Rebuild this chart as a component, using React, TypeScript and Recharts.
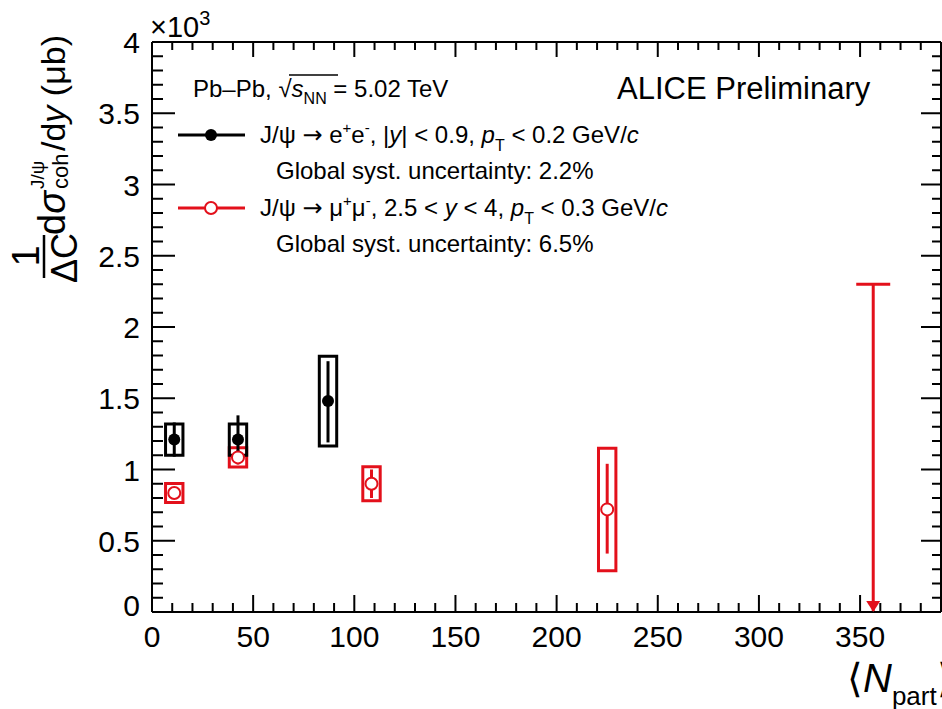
import {
  ComposedChart,
  XAxis,
  YAxis,
  Scatter,
  ErrorBar,
  ReferenceArea,
  ReferenceLine,
} from 'recharts';

const FONT = '"Liberation Sans", Arial, Helvetica, sans-serif';
const RED = '#e3101b';

// J/psi -> e+e-, |y| < 0.9, pT < 0.2 GeV/c
const EE_NPART = [11, 42.5, 87];
const EE_XSEC = [1.21, 1.21, 1.48];
const EE_STAT_LO = [0.12, 0.17, 0.29];
const EE_STAT_HI = [0.12, 0.17, 0.28];
const EE_SYST = [0.11, 0.11, 0.315];

// J/psi -> mu+mu-, 2.5 < y < 4, pT < 0.3 GeV/c
const MM_NPART = [11, 42.5, 108.5, 225];
const MM_XSEC = [0.835, 1.085, 0.9, 0.72];
const MM_STAT_LO = [0.04, 0.05, 0.1, 0.31];
const MM_STAT_HI = [0.04, 0.05, 0.1, 0.32];
const MM_SYST = [0.067, 0.067, 0.12, 0.43];

// most central bin: upper limit only
const MM_LIMIT_NPART = [356.5];
const MM_LIMIT_VAL = [2.3];

const X_LABELS = [0, 50, 100, 150, 200, 250, 300, 350];
const Y_LABELS = [0, 0.5, 1, 1.5, 2, 2.5, 3, 3.5, 4];

const X_MAX = 390;
const Y_MAX = 4;
const BOX_HALF = 4.3; // width of syst. boxes in Npart units
const CAP_HALF = 8.4;

const MARGIN = { top: 41, right: 0, bottom: 96, left: 151 };
const W = 942;
const H = 709;
// plot box (axes take 1px each)
const PLOT_L = MARGIN.left + 1;
const PLOT_T = MARGIN.top + 1;
const PLOT_R = W - MARGIN.right - 1;
const PLOT_B = H - MARGIN.bottom - 1;

// minor ticks every 10 in x, 0.1 in y
const X_TICKS: number[] = [];
for (let i = 0; i <= X_MAX; i += 10) X_TICKS.push(i);
const Y_TICKS: number[] = [];
for (let i = 0; i <= 40; i++) Y_TICKS.push(i / 10);

const eeData = EE_NPART.map((x, i) => ({
  x,
  y: EE_XSEC[i],
  stat: [EE_STAT_LO[i], EE_STAT_HI[i]],
  syst: EE_SYST[i],
}));
const mmData = MM_NPART.map((x, i) => ({
  x,
  y: MM_XSEC[i],
  stat: [MM_STAT_LO[i], MM_STAT_HI[i]],
  syst: MM_SYST[i],
}));
const limitData = MM_LIMIT_NPART.map((x, i) => ({ x, y: 0, top: MM_LIMIT_VAL[i] }));

const isMajorX = (v: number) => X_LABELS.includes(v);
const isMajorY = (v: number) => Y_LABELS.some((l) => Math.abs(l - v) < 1e-6);

const BottomTick = ({ x, y, payload }: any) => {
  const major = isMajorX(payload.value);
  return (
    <g>
      <line x1={x} x2={x} y1={y} y2={y - (major ? 17 : 9)} stroke="#000" strokeWidth={2} />
      {major && (
        <text x={x} y={y + 35} textAnchor="middle" fontSize={30} fontFamily={FONT} fill="#000">
          {payload.value}
        </text>
      )}
    </g>
  );
};

const LeftTick = ({ x, y, payload }: any) => {
  const major = isMajorY(payload.value);
  const label = Y_LABELS.find((l) => Math.abs(l - payload.value) < 1e-6);
  return (
    <g>
      <line x1={x} x2={x + (major ? 23 : 11)} y1={y} y2={y} stroke="#000" strokeWidth={2} />
      {label !== undefined && (
        <text
          x={x - 12}
          y={y + (label === 0 ? 4 : 11)}
          textAnchor="end"
          fontSize={30}
          fontFamily={FONT}
          fill="#000"
        >
          {label}
        </text>
      )}
    </g>
  );
};

const FilledDot = ({ cx, cy }: any) => <circle cx={cx} cy={cy} r={6} fill="#000" />;
const OpenDot = ({ cx, cy }: any) => (
  <circle cx={cx} cy={cy} r={6} fill="#fff" stroke={RED} strokeWidth={2} />
);
const ArrowHead = ({ cx, cy }: any) => (
  <path d={`M${cx - 7},${cy - 11} L${cx + 7},${cy - 11} L${cx},${cy} Z`} fill={RED} />
);

const ARROW_FONT = '"DejaVu Sans", sans-serif';

// frame ticks on the top and right edges (mirror of the bottom/left axes)
function FrameTicks() {
  const sx = (v: number) => PLOT_L + (v / X_MAX) * (PLOT_R - PLOT_L);
  const sy = (v: number) => PLOT_B - (v / Y_MAX) * (PLOT_B - PLOT_T);
  return (
    <g stroke="#000" strokeWidth={2}>
      {X_TICKS.map((v) => (
        <line key={`t${v}`} x1={sx(v)} x2={sx(v)} y1={PLOT_T} y2={PLOT_T + (isMajorX(v) ? 15 : 8)} />
      ))}
      {Y_TICKS.map((v) => (
        <line key={`r${v}`} x1={PLOT_R} x2={PLOT_R - (isMajorY(v) ? 20 : 9)} y1={sy(v)} y2={sy(v)} />
      ))}
    </g>
  );
}

function Overlay() {
  return (
    <svg
      width={W}
      height={H}
      style={{ position: 'absolute', left: 0, top: 0, pointerEvents: 'none' }}
      fontFamily={FONT}
    >
      <FrameTicks />

      {/* multiplier */}
      <text x={150} y={37} fontSize={29}>
        ×10<tspan dy={-12} fontSize={20}>3</tspan>
      </text>

      {/* y axis title */}
      <text transform="rotate(-90)" x={-256} y={39} textAnchor="middle" fontSize={38}>
        1
      </text>
      <line x1={44} x2={44} y1={235} y2={278} stroke="#000" strokeWidth={2.5} />
      <text transform="rotate(-90)" x={-258} y={77} textAnchor="middle" fontSize={36}>
        ΔC
      </text>
      <text transform="rotate(-90)" x={-235} y={65} fontSize={38}>
        d<tspan fontStyle="italic">σ</tspan>
      </text>
      <text transform="rotate(-90)" x={-189} y={44} fontSize={19}>
        J/ψ
      </text>
      <text transform="rotate(-90)" x={-189} y={68} fontSize={22}>
        coh
      </text>
      <text transform="rotate(-90)" x={-151} y={65} fontSize={34}>
        /d<tspan fontStyle="italic">y</tspan> (μb)
      </text>

      {/* x axis title */}
      <text x={847} y={692} fontSize={40}>
        ⟨<tspan fontStyle="italic">N</tspan>
        <tspan dy={13} fontSize={26}>part</tspan>
        <tspan dy={-13}>⟩</tspan>
      </text>

      {/* header */}
      <text x={193} y={97} fontSize={24}>
        Pb–Pb, √<tspan fontStyle="italic">s</tspan>
        <tspan dy={7} fontSize={16}>NN</tspan>
        <tspan dy={-7}> = 5.02 TeV</tspan>
      </text>
      <line x1={289} x2={338} y1={75} y2={75} stroke="#000" strokeWidth={1.5} />
      <text x={617} y={99} fontSize={31}>
        ALICE Preliminary
      </text>

      {/* legend */}
      <line x1={178} x2={245} y1={135} y2={135} stroke="#000" strokeWidth={3} />
      <circle cx={211} cy={135} r={6} fill="#000" />
      <text x={260} y={143} fontSize={24}>
        J/ψ <tspan fontFamily={ARROW_FONT}>→</tspan> e<tspan dy={-10} fontSize={15}>+</tspan>
        <tspan dy={10}>e</tspan>
        <tspan dy={-10} fontSize={15}>-</tspan>
        <tspan dy={10}>, |</tspan>
        <tspan fontStyle="italic">y</tspan>| &lt; 0.9, <tspan fontStyle="italic">p</tspan>
        <tspan dy={8} fontSize={16}>T</tspan>
        <tspan dy={-8}> &lt; 0.2 GeV/</tspan>
        <tspan fontStyle="italic">c</tspan>
      </text>
      <text x={276} y={179} fontSize={24}>
        Global syst. uncertainty: 2.2%
      </text>

      <line x1={178} x2={245} y1={208} y2={208} stroke={RED} strokeWidth={3} />
      <circle cx={211} cy={208} r={6} fill="#fff" stroke={RED} strokeWidth={2} />
      <text x={260} y={216} fontSize={24}>
        J/ψ <tspan fontFamily={ARROW_FONT}>→</tspan> μ<tspan dy={-10} fontSize={15}>+</tspan>
        <tspan dy={10}>μ</tspan>
        <tspan dy={-10} fontSize={15}>-</tspan>
        <tspan dy={10}>, 2.5 &lt; </tspan>
        <tspan fontStyle="italic">y</tspan> &lt; 4, <tspan fontStyle="italic">p</tspan>
        <tspan dy={8} fontSize={16}>T</tspan>
        <tspan dy={-8}> &lt; 0.3 GeV/</tspan>
        <tspan fontStyle="italic">c</tspan>
      </text>
      <text x={276} y={252} fontSize={24}>
        Global syst. uncertainty: 6.5%
      </text>
    </svg>
  );
}

export default function App() {
  return (
    <div style={{ position: 'absolute', left: 0, top: 0, width: W, height: H, background: '#fff' }}>
      <ComposedChart width={W} height={H} margin={MARGIN}>
        <XAxis
          xAxisId="b"
          dataKey="x"
          type="number"
          domain={[0, X_MAX]}
          allowDataOverflow
          ticks={X_TICKS}
          interval={0}
          tick={BottomTick}
          tickLine={false}
          tickSize={0}
          tickMargin={0}
          height={1}
          axisLine={{ stroke: '#000', strokeWidth: 2 }}
        />
        <XAxis
          xAxisId="t"
          orientation="top"
          type="number"
          domain={[0, X_MAX]}
          tick={false}
          tickLine={false}
          height={1}
          axisLine={{ stroke: '#000', strokeWidth: 2 }}
        />
        <YAxis
          yAxisId="l"
          dataKey="y"
          type="number"
          domain={[0, Y_MAX]}
          allowDataOverflow
          ticks={Y_TICKS}
          interval={0}
          tick={LeftTick}
          tickLine={false}
          tickSize={0}
          tickMargin={0}
          width={1}
          axisLine={{ stroke: '#000', strokeWidth: 2 }}
        />
        <YAxis
          yAxisId="r"
          orientation="right"
          type="number"
          domain={[0, Y_MAX]}
          tick={false}
          tickLine={false}
          width={1}
          axisLine={{ stroke: '#000', strokeWidth: 2 }}
        />

        {mmData.map((d) => (
          <ReferenceArea
            key={`mm-${d.x}`}
            xAxisId="b"
            yAxisId="l"
            x1={d.x - BOX_HALF}
            x2={d.x + BOX_HALF}
            y1={d.y - d.syst}
            y2={d.y + d.syst}
            fill="none"
            fillOpacity={0}
            stroke={RED}
            strokeWidth={3}
            ifOverflow="visible"
          />
        ))}
        {eeData.map((d) => (
          <ReferenceArea
            key={`ee-${d.x}`}
            xAxisId="b"
            yAxisId="l"
            x1={d.x - BOX_HALF}
            x2={d.x + BOX_HALF}
            y1={d.y - d.syst}
            y2={d.y + d.syst}
            fill="none"
            fillOpacity={0}
            stroke="#000"
            strokeWidth={3}
            ifOverflow="visible"
          />
        ))}

        {limitData.map((d) => (
          <ReferenceLine
            key={`lim-${d.x}`}
            xAxisId="b"
            yAxisId="l"
            segment={[
              { x: d.x, y: d.y },
              { x: d.x, y: d.top },
            ]}
            stroke={RED}
            strokeWidth={3}
          />
        ))}
        {limitData.map((d) => (
          <ReferenceLine
            key={`cap-${d.x}`}
            xAxisId="b"
            yAxisId="l"
            segment={[
              { x: d.x - CAP_HALF, y: d.top },
              { x: d.x + CAP_HALF, y: d.top },
            ]}
            stroke={RED}
            strokeWidth={3}
          />
        ))}

        <Scatter
          name="mumu"
          data={mmData}
          xAxisId="b"
          yAxisId="l"
          dataKey="y"
          shape={OpenDot}
          isAnimationActive={false}
        >
          <ErrorBar dataKey="stat" direction="y" width={0} stroke={RED} strokeWidth={3} />
        </Scatter>
        <Scatter
          name="limit"
          data={limitData}
          xAxisId="b"
          yAxisId="l"
          dataKey="y"
          shape={ArrowHead}
          isAnimationActive={false}
        />
        <Scatter
          name="ee"
          data={eeData}
          xAxisId="b"
          yAxisId="l"
          dataKey="y"
          shape={FilledDot}
          isAnimationActive={false}
        >
          <ErrorBar dataKey="stat" direction="y" width={0} stroke="#000" strokeWidth={3} />
        </Scatter>
      </ComposedChart>
      <Overlay />
    </div>
  );
}
